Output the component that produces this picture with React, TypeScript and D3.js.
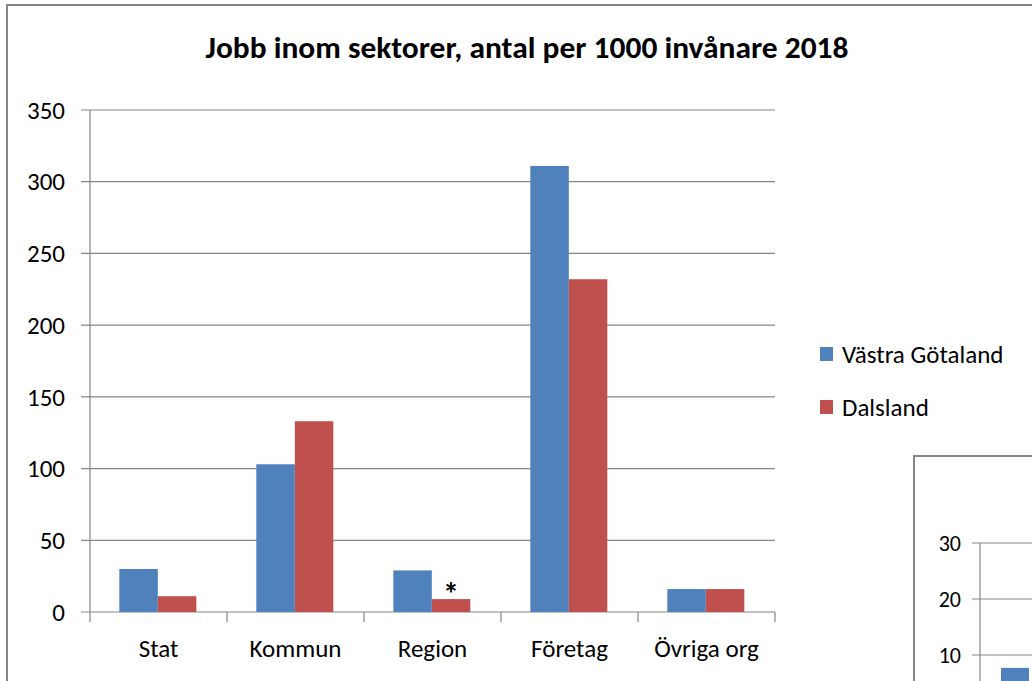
import React, { useEffect, useRef } from 'react';
import * as d3 from 'd3';

const categories = ['Stat', 'Kommun', 'Region', 'Företag', 'Övriga org'];
const seriesNames = ['Västra Götaland', 'Dalsland'];
const vastraGotaland = [30, 103, 29, 311, 16];
const dalsland = [11, 133, 9, 232, 16];
const seriesColors = ['#4F81BD', '#C0504D'];
const yTicks = [0, 50, 100, 150, 200, 250, 300, 350];
const titleText = 'Jobb inom sektorer, antal per 1000 invånare 2018';

// the next chart on the sheet, only partly visible in the corner
const insetTicks = [10, 20, 30];
const insetValues = [7.7];

const FONT = "Carlito, Calibri, 'Liberation Sans', Arial, sans-serif";
const AXIS_GRAY = '#868686';

const App = () => {
  const svgRef = useRef<SVGSVGElement>(null);

  useEffect(() => {
    const svg = d3.select(svgRef.current);
    svg.selectAll('*').remove();

    const W = 1032;
    const H = 681;
    svg.append('rect').attr('width', W).attr('height', H).attr('fill', '#fff');

    // outer chart frame (runs off the right and bottom edge)
    svg.append('rect')
      .attr('x', 7).attr('y', 5)
      .attr('width', W + 20).attr('height', H + 20)
      .attr('fill', '#fff')
      .attr('stroke', AXIS_GRAY).attr('stroke-width', 2);

    svg.append('text')
      .attr('x', 527).attr('y', 58)
      .attr('text-anchor', 'middle')
      .attr('font-family', FONT)
      .attr('font-weight', 'bold')
      .attr('font-size', 31)
      .attr('textLength', 643)
      .attr('lengthAdjust', 'spacingAndGlyphs')
      .attr('fill', '#000')
      .text(titleText);

    const plot = { left: 90, right: 775, top: 110, bottom: 612 };

    const x = d3.scaleBand<string>()
      .domain(categories)
      .range([plot.left, plot.right]);
    const bw = x.bandwidth();
    const xs = d3.scaleBand<string>()
      .domain(seriesNames)
      .range([bw * 0.214, bw * 0.776]);
    const y = d3.scaleLinear().domain([0, 350]).range([plot.bottom, plot.top]);

    const g = svg.append('g');

    // gridlines
    g.selectAll('line.grid')
      .data(yTicks)
      .join('line')
      .attr('class', 'grid')
      .attr('x1', plot.left - 9).attr('x2', plot.right)
      .attr('y1', d => y(d)).attr('y2', d => y(d))
      .attr('stroke', AXIS_GRAY).attr('stroke-width', 1.2);

    g.selectAll('text.ylab')
      .data(yTicks)
      .join('text')
      .attr('class', 'ylab')
      .attr('x', 65).attr('y', d => y(d))
      .attr('dy', '0.35em')
      .attr('text-anchor', 'end')
      .attr('font-family', FONT).attr('font-size', 25)
      .attr('fill', '#000')
      .text(d => d);

    g.append('line')
      .attr('x1', plot.left).attr('x2', plot.left)
      .attr('y1', plot.top).attr('y2', plot.bottom)
      .attr('stroke', AXIS_GRAY).attr('stroke-width', 1.2);

    const xTickPos = categories.map(c => x(c) as number).concat([plot.right]);
    g.selectAll('line.xtick')
      .data(xTickPos)
      .join('line')
      .attr('class', 'xtick')
      .attr('x1', d => d).attr('x2', d => d)
      .attr('y1', plot.bottom).attr('y2', plot.bottom + 10)
      .attr('stroke', AXIS_GRAY).attr('stroke-width', 1.2);

    g.selectAll('text.xlab')
      .data(categories)
      .join('text')
      .attr('class', 'xlab')
      .attr('x', d => (x(d) as number) + bw / 2)
      .attr('y', 657)
      .attr('text-anchor', 'middle')
      .attr('font-family', FONT).attr('font-size', 25)
      .attr('fill', '#000')
      .text(d => d);

    const seriesData = [vastraGotaland, dalsland];
    seriesNames.forEach((name, si) => {
      g.selectAll(`rect.s${si}`)
        .data(seriesData[si])
        .join('rect')
        .attr('class', `s${si}`)
        .attr('x', (d, i) => (x(categories[i]) as number) + (xs(name) as number))
        .attr('width', xs.bandwidth())
        .attr('y', d => y(d))
        .attr('height', d => plot.bottom - y(d))
        .attr('fill', seriesColors[si]);
    });

    // asterisk note on Region / Dalsland
    const ri = categories.indexOf('Region');
    g.append('text')
      .attr('x', (x('Region') as number) + (xs('Dalsland') as number) + xs.bandwidth() / 2)
      .attr('y', y(dalsland[ri]) + 6)
      .attr('text-anchor', 'middle')
      .attr('font-family', FONT).attr('font-size', 32)
      .attr('font-weight', 'bold')
      .attr('fill', '#000')
      .text('*');

    // legend
    const legend = svg.append('g');
    seriesNames.forEach((name, i) => {
      const ly = 354 + i * 53;
      legend.append('rect')
        .attr('x', 820).attr('y', ly - 7)
        .attr('width', 13).attr('height', 14)
        .attr('fill', seriesColors[i]);
      legend.append('text')
        .attr('x', 842).attr('y', ly)
        .attr('dy', '0.35em')
        .attr('font-family', FONT).attr('font-size', 25)
        .attr('fill', '#000')
        .text(name);
    });

    // partly visible second chart in the lower right corner
    const inset = svg.append('g');
    inset.append('rect')
      .attr('x', 914).attr('y', 456)
      .attr('width', 200).attr('height', 300)
      .attr('fill', '#fff')
      .attr('stroke', AXIS_GRAY).attr('stroke-width', 2);
    const iy = d3.scaleLinear().domain([10, 30]).range([655, 543]);
    inset.selectAll('line.igrid')
      .data(insetTicks)
      .join('line')
      .attr('class', 'igrid')
      .attr('x1', 972).attr('x2', W)
      .attr('y1', d => iy(d)).attr('y2', d => iy(d))
      .attr('stroke', AXIS_GRAY).attr('stroke-width', 1.2);
    inset.append('line')
      .attr('x1', 980).attr('x2', 980)
      .attr('y1', iy(30)).attr('y2', H)
      .attr('stroke', AXIS_GRAY).attr('stroke-width', 1.2);
    inset.selectAll('text.ilab')
      .data(insetTicks)
      .join('text')
      .attr('class', 'ilab')
      .attr('x', 961).attr('y', d => iy(d))
      .attr('dy', '0.35em')
      .attr('text-anchor', 'end')
      .attr('font-family', FONT).attr('font-size', 22)
      .attr('fill', '#000')
      .text(d => d);
    inset.selectAll('rect.ibar')
      .data(insetValues)
      .join('rect')
      .attr('class', 'ibar')
      .attr('x', 1001).attr('width', 28)
      .attr('y', d => iy(d))
      .attr('height', d => iy(0) - iy(d))
      .attr('fill', seriesColors[0]);
  }, []);

  return (
    <div style={{ position: 'absolute', left: 0, top: 0 }}>
      <svg ref={svgRef} width={1032} height={681} style={{ display: 'block' }}></svg>
    </div>
  );
};

export default App;
